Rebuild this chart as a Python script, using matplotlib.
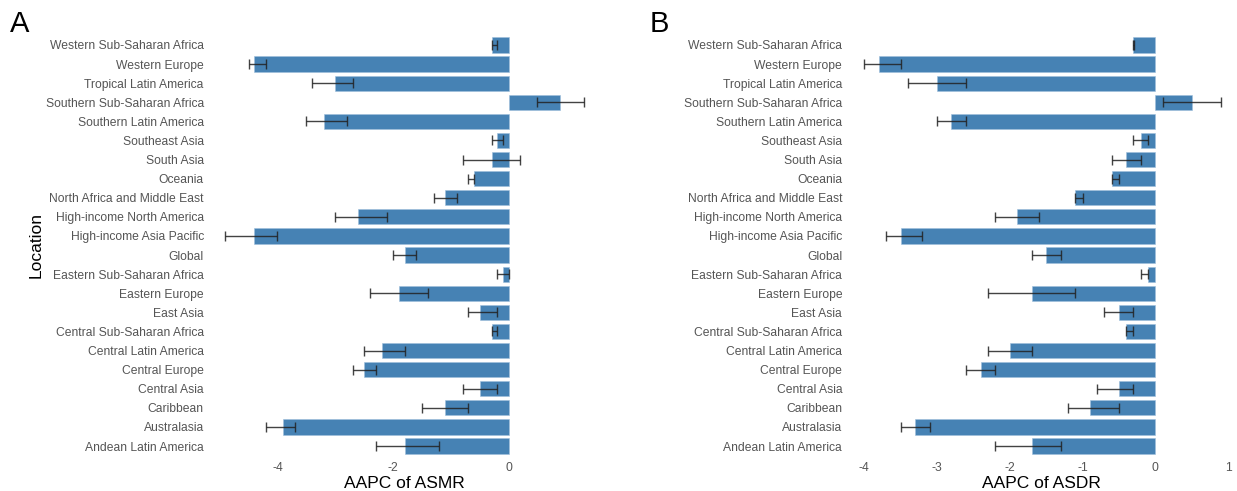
import matplotlib
matplotlib.use("Agg")
import matplotlib.pyplot as plt
import numpy as np

plt.rcParams["font.family"] = ["Liberation Sans", "DejaVu Sans"]

# Regions, alphabetical (drawn bottom to top)
locations = [
    "Andean Latin America", "Australasia", "Caribbean", "Central Asia",
    "Central Europe", "Central Latin America", "Central Sub-Saharan Africa",
    "East Asia", "Eastern Europe", "Eastern Sub-Saharan Africa", "Global",
    "High-income Asia Pacific", "High-income North America",
    "North Africa and Middle East", "Oceania", "South Asia", "Southeast Asia",
    "Southern Latin America", "Southern Sub-Saharan Africa",
    "Tropical Latin America", "Western Europe", "Western Sub-Saharan Africa",
]

# AAPC of age-standardised mortality rate, with 95% CI
asmr = [-1.8, -3.9, -1.1, -0.5, -2.5, -2.2, -0.3, -0.5, -1.9, -0.1, -1.8,
        -4.4, -2.6, -1.1, -0.6, -0.3, -0.2, -3.2, 0.88, -3.0, -4.4, -0.3]
asmr_lo = [-2.3, -4.2, -1.5, -0.8, -2.7, -2.5, -0.3, -0.7, -2.4, -0.2, -2.0,
           -4.9, -3.0, -1.3, -0.7, -0.8, -0.3, -3.5, 0.49, -3.4, -4.5, -0.3]
asmr_hi = [-1.2, -3.7, -0.7, -0.2, -2.3, -1.8, -0.2, -0.2, -1.4, 0.0, -1.6,
           -4.0, -2.1, -0.9, -0.6, 0.2, -0.1, -2.8, 1.29, -2.7, -4.2, -0.2]

# AAPC of age-standardised DALY rate, with 95% CI
asdr = [-1.7, -3.3, -0.9, -0.5, -2.4, -2.0, -0.4, -0.5, -1.7, -0.1, -1.5,
        -3.5, -1.9, -1.1, -0.6, -0.4, -0.2, -2.8, 0.5, -3.0, -3.8, -0.3]
asdr_lo = [-2.2, -3.5, -1.2, -0.8, -2.6, -2.3, -0.4, -0.7, -2.3, -0.2, -1.7,
           -3.7, -2.2, -1.1, -0.6, -0.6, -0.3, -3.0, 0.1, -3.4, -4.0, -0.3]
asdr_hi = [-1.3, -3.1, -0.5, -0.3, -2.2, -1.7, -0.3, -0.3, -1.1, -0.1, -1.3,
           -3.2, -1.6, -1.0, -0.5, -0.2, -0.1, -2.6, 0.9, -2.6, -3.5, -0.29]

W, H = 1237, 491
fig = plt.figure(figsize=(W / 100, H / 100), dpi=100)

bar_color = "#4682B4"
tick_color = "#555555"


def panel(rect, vals, lo, hi, xlim, xticks, xlabel, letter, letter_x):
    ax = fig.add_axes(rect)
    y = np.arange(len(locations))
    lo = np.asarray(lo)
    hi = np.asarray(hi)
    ax.barh(y, vals, height=0.8, color=bar_color, edgecolor="#9fbfdc",
            linewidth=0.4)
    ax.errorbar((lo + hi) / 2, y, xerr=(hi - lo) / 2,
                fmt="none", ecolor="#222222", elinewidth=1.0, capsize=3.4,
                capthick=1.0, alpha=0.85)
    ax.set_yticks(y)
    ax.set_yticklabels(locations)
    ax.set_xticks(xticks)
    ax.set_xticklabels([f"{t:g}" for t in xticks])
    ax.set_xlim(*xlim)
    ax.set_ylim(-0.6, len(locations) - 0.4)
    ax.tick_params(axis="both", length=0, labelsize=8.7, colors=tick_color,
                   pad=3)
    for s in ax.spines.values():
        s.set_visible(False)
    ax.set_xlabel(xlabel, fontsize=12.5, labelpad=2, color="black")
    fig.text(letter_x, 1 - 24 / H, letter, fontsize=21, ha="left",
             va="center")
    return ax


panel([208 / W, 1 - 457.5 / H, (601.5 - 208) / W, 424 / H],
      asmr, asmr_lo, asmr_hi, (-5.2, 1.6), [-4, -2, 0],
      "AAPC of ASMR", "A", 10 / W)
panel([846.3 / W, 1 - 457.5 / H, (W - 846.3) / W, 424 / H],
      asdr, asdr_lo, asdr_hi, (-4.245, 1.122), [-4, -3, -2, -1, 0, 1],
      "AAPC of ASDR", "B", 650 / W)

# shared y-axis title, drawn once beside the left panel
fig.text(36 / W, 1 - 245.5 / H, "Location", rotation=90, fontsize=12.5,
         ha="center", va="center")

fig.savefig("out.png", dpi=100)
